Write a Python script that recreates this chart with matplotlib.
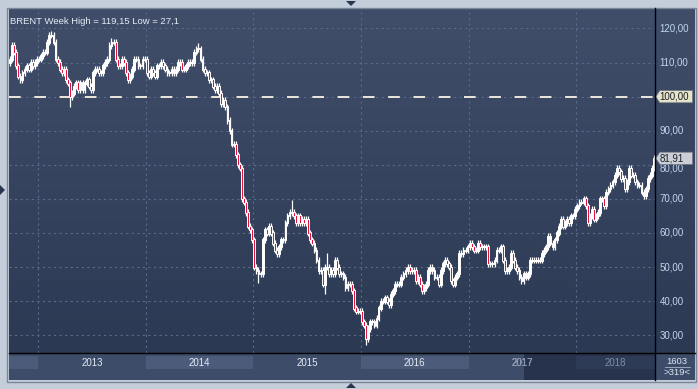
import matplotlib.pyplot as plt
import numpy as np
from matplotlib.patches import Rectangle, Polygon
from matplotlib.colors import LinearSegmentedColormap

# weekly closes of Brent (late Sep 2012 .. Sep 2018)
closes_2012 = [111, 115, 113, 109, 106, 105, 107, 108, 109, 108, 110, 109, 110, 111]
closes_2013 = [111, 112, 113, 113, 116, 118, 118, 116, 111, 110, 108, 107, 108,
               105, 104, 100, 101, 103, 104, 102, 104, 102, 104, 105, 103, 102,
               107, 108, 108, 107, 107, 109, 110, 111, 115, 116, 116, 111, 109,
               109, 111, 110, 107, 105, 106, 108, 111, 111, 109, 109, 111, 111]
closes_2014 = [107, 106, 108, 107, 106, 109, 109, 110, 109, 108, 107, 107, 108,
               107, 108, 110, 110, 108, 108, 109, 110, 110, 110, 113, 114, 114,
               111, 108, 107, 107, 105, 105, 103, 102, 103, 101, 98, 99, 97,
               93, 90, 86, 86, 83, 80, 79, 70, 69, 66, 62, 61, 58]
closes_2015 = [50, 49, 48, 48, 58, 61, 60, 62, 60, 57, 55, 54, 56,
               58, 58, 63, 65, 66, 66, 65, 63, 65, 63, 64, 63, 64,
               60, 58, 57, 55, 52, 49, 49, 45, 50, 50, 48, 49, 48,
               52, 50, 48, 48, 47, 44, 45, 45, 43, 38, 37, 37, 37]
closes_2016 = [34, 33, 29, 32, 34, 34, 33, 35, 38, 40, 40, 41, 40,
               39, 42, 43, 45, 45, 45, 47, 48, 49, 50, 49, 49, 49,
               46, 47, 45, 43, 44, 45, 49, 50, 49, 47, 47, 45, 49,
               51, 52, 51, 50, 46, 45, 47, 48, 54, 54, 55, 55, 56]
closes_2017 = [57, 56, 55, 55, 57, 56, 56, 56, 56, 51, 51, 51, 52,
               55, 55, 56, 52, 49, 49, 50, 54, 52, 50, 49, 47, 46,
               48, 47, 48, 52, 52, 52, 52, 52, 52, 54, 55, 56, 59,
               57, 56, 58, 60, 62, 64, 62, 63, 64, 63, 65, 65, 67]
closes_2018 = [68, 69, 69, 70, 68, 63, 65, 67, 64, 65, 66, 70, 70,
               68, 72, 73, 74, 75, 77, 79, 78, 76, 76, 73, 75,
               79, 77, 77, 75, 74, 74, 72, 71, 73, 76, 77, 79, 81.91]
first_open = 110

# notable long shadows (week index -> price)
long_highs = {20: 119.15, 49: 117.3, 91: 115.7, 136: 69.6, 153: 54.2}
long_lows = {29: 97.0, 120: 45.2, 152: 42.2, 172: 27.1}

years = ['2013', '2014', '2015', '2016', '2017', '2018']
year_start = [14, 66, 118, 170, 222, 274]
price_ticks = [30, 40, 50, 60, 70, 80, 90, 100, 110, 120]

closes = np.array(closes_2012 + closes_2013 + closes_2014 + closes_2015
                  + closes_2016 + closes_2017 + closes_2018, dtype=float)
n = len(closes)
opens = np.r_[first_open, closes[:-1]]
highs = np.maximum(opens, closes) + 0.9
lows = np.minimum(opens, closes) - 0.9
for k, v in long_highs.items():
    highs[k] = v
for k, v in long_lows.items():
    lows[k] = v

W, H = 698, 389
def box(x0, y0, x1, y1):
    return [x0 / W, 1 - y1 / H, (x1 - x0) / W, (y1 - y0) / H]

fig = plt.figure(figsize=(6.98, 3.89), dpi=100, facecolor='#c4cdda')
plt.rcParams['font.family'] = ['Liberation Sans', 'DejaVu Sans']

ylim = (24.8, 126.0)
xlim = (-0.5, n - 0.5)
grad_cm = LinearSegmentedColormap.from_list('bg', ['#404e6a', '#2c3953'])
grad = np.linspace(0, 1, 256).reshape(-1, 1)

ax = fig.add_axes(box(9, 8, 655, 353))
ax.imshow(grad, extent=[0, 1, 0, 1], transform=ax.transAxes, aspect='auto',
          cmap=grad_cm, zorder=0)
for t in price_ticks:
    ax.axhline(t, color='#5a6a8c', lw=0.8, ls=(0, (2, 3)), zorder=1)
for s in year_start:
    ax.axvline(s - 0.5, color='#5a6a8c', lw=0.8, ls=(0, (2, 3)), zorder=1)
ax.axhline(100, color='#ece8dc', lw=1.4, ls=(0, (6, 7)), zorder=2)

x = np.arange(n)
down = closes < opens
ax.vlines(x, lows, highs, color='white', lw=0.9, zorder=3)
ax.bar(x, np.abs(closes - opens) + 0.3, bottom=np.minimum(opens, closes) - 0.15,
       width=0.85, color=np.where(down, '#e0143c', 'white'),
       edgecolor='white', linewidth=0.7, zorder=4)
ax.set_xlim(xlim)
ax.set_ylim(ylim)
ax.axis('off')
ax.text(0.002, 0.975, 'BRENT Week High = 119,15 Low = 27,1', transform=ax.transAxes,
        color='#e4ebf6', fontsize=6.8, va='top', ha='left')

# right price scale
axr = fig.add_axes(box(655, 8, 695, 353))
axr.imshow(grad, extent=[0, 1, 0, 1], transform=axr.transAxes, aspect='auto',
           cmap=grad_cm, zorder=0)
axr.set_xlim(0, 1)
axr.set_ylim(ylim)
axr.axis('off')
for t in price_ticks:
    axr.text(0.12, t - (1.2 if t == 80 else 0), f'{t},00', color='#c2d4ee',
             fontsize=7, va='center', ha='left')
for yv, lab, fc in [(100, '100,00', '#e6e4c8'), (closes[-1], '81,91', '#ccd0d6')]:
    axr.add_patch(Polygon([(0.02, yv), (0.12, yv + 1.8), (0.94, yv + 1.8),
                           (0.94, yv - 1.8), (0.12, yv - 1.8)], closed=True,
                          facecolor=fc, edgecolor='#6a7080', lw=0.5, zorder=5))
    axr.text(0.11, yv, lab, color='#1a1e28', fontsize=7, va='center', ha='left', zorder=6)

# year strip
axs = fig.add_axes(box(9, 353, 655, 380))
axs.set_xlim(xlim)
axs.set_ylim(0, 1)
axs.axis('off')
bounds = [-0.5] + [s - 0.5 for s in year_start] + [n - 0.5]
thumb = (524 - 9) / 646 * n - 0.5
axs.add_patch(Rectangle((-0.5, 0), n, 1, facecolor='#3d4c68', lw=0, zorder=0))
for i in range(len(bounds) - 1):
    if i % 2 == 0:
        axs.add_patch(Rectangle((bounds[i], 0.41), bounds[i + 1] - bounds[i], 0.48,
                                facecolor='#4b5b79', lw=0, zorder=1))
axs.add_patch(Rectangle((thumb, 0), n - 0.5 - thumb, 1, facecolor='#27334c', lw=0, zorder=2))
axs.add_patch(Rectangle((bounds[-2], 0.41), bounds[-1] - bounds[-2], 0.48,
                        facecolor='#2e3b56', lw=0, zorder=3))
for i, yr in enumerate(years):
    xc = (bounds[i + 1] + bounds[i + 2]) / 2
    if yr == '2018':
        axs.text(xc, 0.63, yr, color='#7d8ba4', fontsize=7, ha='center', va='center', zorder=5)
    elif yr == '2017':
        t1 = axs.text(xc, 0.63, yr, color='#e4ebf6', fontsize=7, ha='center', va='center', zorder=5)
        t1.set_clip_path(Rectangle((-0.5, 0), thumb + 0.5, 1, transform=axs.transData))
        t2 = axs.text(xc, 0.63, yr, color='#7d8ba4', fontsize=7, ha='center', va='center', zorder=5)
        t2.set_clip_path(Rectangle((thumb, 0), n, 1, transform=axs.transData))
    else:
        axs.text(xc, 0.63, yr, color='#e4ebf6', fontsize=7, ha='center', va='center', zorder=5)

# corner counters
axc = fig.add_axes(box(655, 353, 695, 380))
axc.set_xlim(0, 1)
axc.set_ylim(0, 1)
axc.axis('off')
axc.add_patch(Rectangle((0, 0), 1, 1, facecolor='#3d4c68', lw=0))
axc.text(0.55, 0.70, '1603', color='#dfe6f2', fontsize=6.8, ha='center', va='center')
axc.plot([0.25, 0.88], [0.47, 0.47], color='#aab6c8', lw=0.6)
axc.text(0.55, 0.26, '>319<', color='#dfe6f2', fontsize=6.8, ha='center', va='center')

# separators and frame
fig.add_artist(plt.Line2D([655 / W, 655 / W], [1 - 8 / H, 1 - 380 / H], color='black', lw=1))
fig.add_artist(plt.Line2D([9 / W, 695 / W], [1 - 353 / H, 1 - 353 / H], color='black', lw=1))
fig.add_artist(Rectangle((7.5 / W, 1 - 381.5 / H), 688 / W, 374 / H, fill=False,
                         edgecolor='#7c879a', lw=1, transform=fig.transFigure))
# small navigation arrows
for pts in [[(346, 1), (356, 1), (351, 6)], [(346, 388), (356, 388), (351, 383)],
            [(0, 185), (0, 195), (5, 190)]]:
    fig.add_artist(Polygon([(px / W, 1 - py / H) for px, py in pts], closed=True,
                           facecolor='#2a3550', edgecolor='none', transform=fig.transFigure))

fig.savefig('out.png', dpi=100, facecolor=fig.get_facecolor())
